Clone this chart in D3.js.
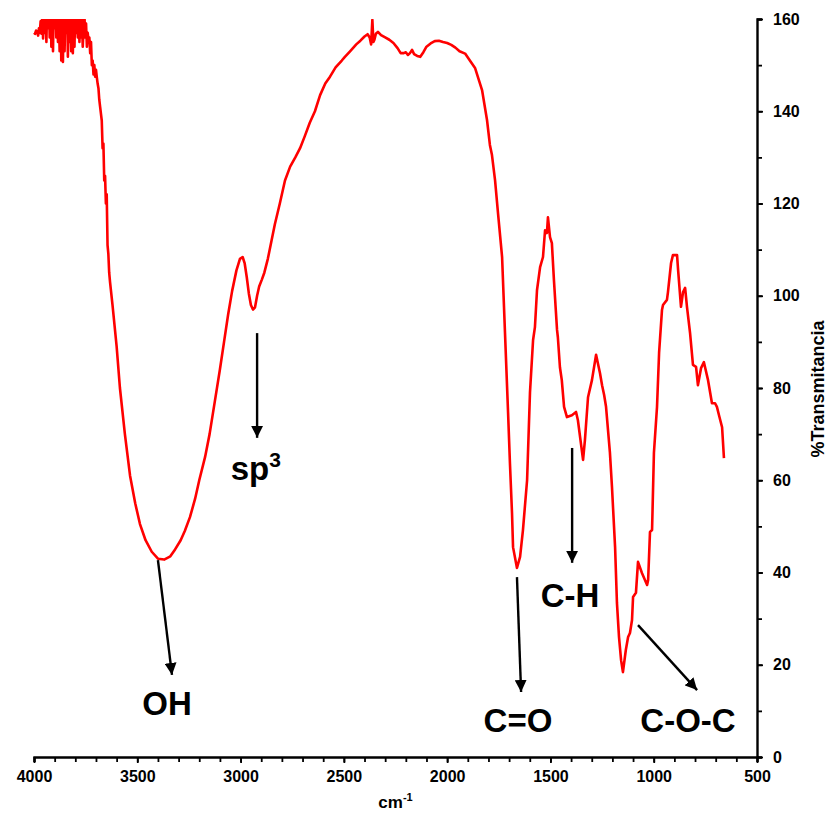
<!DOCTYPE html>
<html><head><meta charset="utf-8">
<script src="https://cdn.jsdelivr.net/npm/d3@7/dist/d3.min.js"></script>
<style>body{margin:0;background:#fff;font-family:"Liberation Sans",Arial,sans-serif;}</style>
</head><body><div id="chart"></div>
<script>
// Wavenumbers (cm-1) and %Transmitancia
const wavenumbers = [4000,3995,3990,3985,3980,3976,3972,3968,3964,3960,3956,3952,3948,3944,3940,3936,3932,3928,3924,3920,3916,3912,3908,3904,3900,3896,3892,3888,3884,3880,3876,3872,3868,3864,3860,3856,3852,3848,3844,3840,3836,3832,3828,3824,3820,3816,3812,3808,3804,3800,3796,3792,3788,3784,3780,3776,3772,3768,3764,3760,3756,3752,3748,3744,3740,3736,3732,3728,3724,3720,3716,3712,3708,3704,3700,3696,3692,3688,3684,3680,3676,3672,3668,3664,3660,3656,3652,3648,3644,3640,3636,3632,
3620,3600,3584,3560,3535,3510,3487,3460,3430,3400,3370,3340,3317,3290,3270,3245,3220,3200,3172,3150,3125,3100,3080,3060,3041,3020,3003,2990,2980,2970,2960,2950,2940,2930,2920,2910,2897,2885,2868,2850,2834,2810,2785,2760,2735,2712,2690,2665,2640,2615,2590,2567,2540,2510,2495,2470,2440,2420,2400,2385,2375,2368,2362,2357,2352,2345,2335,2320,2300,2280,2260,2240,2225,2210,2200,2190,2180,2170,2160,2145,2130,2115,2100,2080,2060,2040,2020,2000,1980,1960,1940,1913,1890,1865,1831,1807,1793,1783,1768,1754,1734,1720,1705,1696,1686,1681,1662,1647,1633,1613,1599,1584,1575,1565,1550,1536,1526,1517,1512,1502,1493,1483,1468,1464,1454,1445,1434,1420,1396,1376,1367,1342,1333,1318,1299,1279,1260,1250,1240,1231,1212,1202,1187,1178,1168,1158,1149,1135,1124,1115,1105,1100,1086,1076,1057,1032,1027,1018,1008,999,984,974,960,955,936,931,916,907,887,882,868,858,848,839,824,810,795,786,771,757,737,718,703,694,684,669,660];
const transmittance = [157,156.8,157.5,157.2,156.4,158,157,159.5,156.8,161,155.8,163,157,162,155,164,158,165,156,166,154,163,153,165,158,164,156,166,155,163,153,165,151,162,150.7,164,153,163,157,166,151.8,162,155,165,153,163,152.6,161,154,163,157,160,156,162,155,161,156,160,154,158,161,156,159,154,157,155.4,156,152.6,155,150,151,148,150,147.5,149,147.4,146,145,142.5,141,139.5,138,132,133,125,126,120,122,111,109,105,103,
98,89,80,70,61,55,50.5,47,44.5,43,42.8,43.5,45,47,49,52,56,60,65,70,77,84,90,96,101,105.5,108,108.4,107,104,100.5,98,97,97.5,100,102,103.5,105,108,112,115.5,120,125,128,130,132,134.5,137.5,140,143.5,146,147.5,149.5,151,151.8,153,154.5,155.3,156.2,156.7,156,154.5,159.8,155,155.5,156.8,157.2,156.5,156,155.5,154.8,153.7,152.6,152.6,152.8,152.2,152.6,153.3,152.4,152,151.8,152.8,154,154.7,155.2,155.3,155,154.8,154.4,153.8,153,152.5,151,149.4,144.6,138.1,132.7,130.5,125,118,108.4,92,74.6,63.7,52.9,45.5,41,43.4,49.2,60,79,90.4,93.2,101.2,106.2,108.4,114.2,113.6,117,112.7,111.4,103.4,92.6,91,84.5,81.7,75.9,73.7,74.1,74.8,73,64.4,68.7,78,81.7,87.2,83.2,80.6,78.5,76,66,58.5,45.5,33.4,26,21,18.4,23.2,26,26.9,29.7,34.7,35.6,42.3,39.9,37.3,38.4,48.8,49.2,65.9,75.9,87.6,96.9,98,99.1,100.8,107.1,108.8,108.8,105.6,97.6,100.8,101.7,97.6,91.9,85,84.6,80.6,84.3,85.6,81.7,76.7,76.7,75.9,74.1,71.5,64.8];

const xTicks = [4000,3500,3000,2500,2000,1500,1000,500];
const yTicks = [0,20,40,60,80,100,120,140,160];

// Annotations: label, arrow start [wn,T], arrow end [wn,T], label position [wn,T]
const annLabels = ["OH","sp","C=O","C-H","C-O-C"];
const annFrom = [[3400,42.7],[2920,91.9],[1662,39.0],[1395,67.0],[1076,28.6]];
const annTo   = [[3332,17.8],[2920,69.2],[1642,14.1],[1395,42.1],[790,14.5]];
const annText = [[3356,9.1],[2926,60.1],[1657,5.4],[1405,32.5],[834,5.4]];

const W = 829, H = 813;
const margin = {top:19, right:72, bottom:56, left:34};
const svg = d3.select("#chart").append("svg").attr("width",W).attr("height",H);
const x = d3.scaleLinear().domain([4000,500]).range([margin.left, W - margin.right]);
const y = d3.scaleLinear().domain([0,160]).range([H - margin.bottom, margin.top]);

svg.append("clipPath").attr("id","clip").append("rect")
  .attr("x", x(4000)-2).attr("y", y(160)).attr("width", x(500)-x(4000)+4).attr("height", y(0)-y(160));

const data = wavenumbers.map((w,i)=>[w, transmittance[i]]);
const line = d3.line().x(d=>x(d[0])).y(d=>y(d[1]));
svg.append("path").datum(data).attr("clip-path","url(#clip)")
  .attr("d", line).attr("fill","none").attr("stroke","#ff0000").attr("stroke-width",2.6)
  .attr("stroke-linejoin","round");

// X axis
const xAxisG = svg.append("g").attr("transform",`translate(0,${y(0)})`);
xAxisG.call(d3.axisBottom(x).tickValues(d3.range(4000,499,-100)).tickSize(5).tickFormat(""));
xAxisG.call(g=>g.selectAll(".tick line").attr("stroke-width",1.8));
const xAxisMaj = svg.append("g").attr("transform",`translate(0,${y(0)})`)
  .call(d3.axisBottom(x).tickValues(xTicks).tickSize(6).tickPadding(8).tickFormat(d3.format("d")));
xAxisMaj.select(".domain").remove();
xAxisMaj.selectAll(".tick line").attr("stroke-width",1.8);
xAxisMaj.selectAll("text").attr("font-size",16).attr("font-weight","bold")
  .attr("font-family","Liberation Sans, Arial, sans-serif").attr("fill","#000");
xAxisG.select(".domain").attr("stroke-width",2.4);

// Y axis (right)
const yAxisG = svg.append("g").attr("transform",`translate(${x(500)},0)`);
yAxisG.call(d3.axisRight(y).tickValues(d3.range(0,161,10)).tickSize(5).tickFormat(""));
yAxisG.selectAll(".tick line").attr("stroke-width",1.8);
yAxisG.select(".domain").attr("stroke-width",2.4);
const yAxisMaj = svg.append("g").attr("transform",`translate(${x(500)},0)`)
  .call(d3.axisRight(y).tickValues(yTicks).tickSize(6).tickPadding(10));
yAxisMaj.select(".domain").remove();
yAxisMaj.selectAll(".tick line").attr("stroke-width",1.8);
yAxisMaj.selectAll("text").attr("font-size",16).attr("font-weight","bold")
  .attr("font-family","Liberation Sans, Arial, sans-serif").attr("fill","#000");

// Axis titles
const xt = svg.append("text").attr("x", (x(4000)+x(500))/2).attr("y", 808)
  .attr("text-anchor","middle").attr("font-size",17).attr("font-weight","bold");
xt.append("tspan").text("cm");
xt.append("tspan").attr("dy",-7).attr("font-size",11).text("-1");

svg.append("text").attr("transform",`translate(824,${(y(0)+y(160))/2 + 1}) rotate(-90)`)
  .attr("text-anchor","middle").attr("font-size",18).attr("font-weight","bold").text("%Transmitancia");

// Arrow marker
svg.append("defs").append("marker").attr("id","arr").attr("viewBox","0 0 10 10")
  .attr("refX",10).attr("refY",5).attr("markerWidth",5).attr("markerHeight",5)
  .attr("markerUnits","strokeWidth").attr("orient","auto")
  .append("path").attr("d","M0,0 L10,5 L0,10 z").attr("fill","#000");

annLabels.forEach((lab,i)=>{
  svg.append("line").attr("x1",x(annFrom[i][0])).attr("y1",y(annFrom[i][1]))
    .attr("x2",x(annTo[i][0])).attr("y2",y(annTo[i][1]))
    .attr("stroke","#000").attr("stroke-width",2.4).attr("marker-end","url(#arr)");
  const t = svg.append("text").attr("x",x(annText[i][0])).attr("y",y(annText[i][1]))
    .attr("text-anchor","middle").attr("font-size",33).attr("font-weight","bold").attr("fill","#000");
  t.append("tspan").text(lab);
  if (lab === "sp") t.append("tspan").attr("dy",-13).attr("font-size",21).text("3");
});
</script></body></html>
